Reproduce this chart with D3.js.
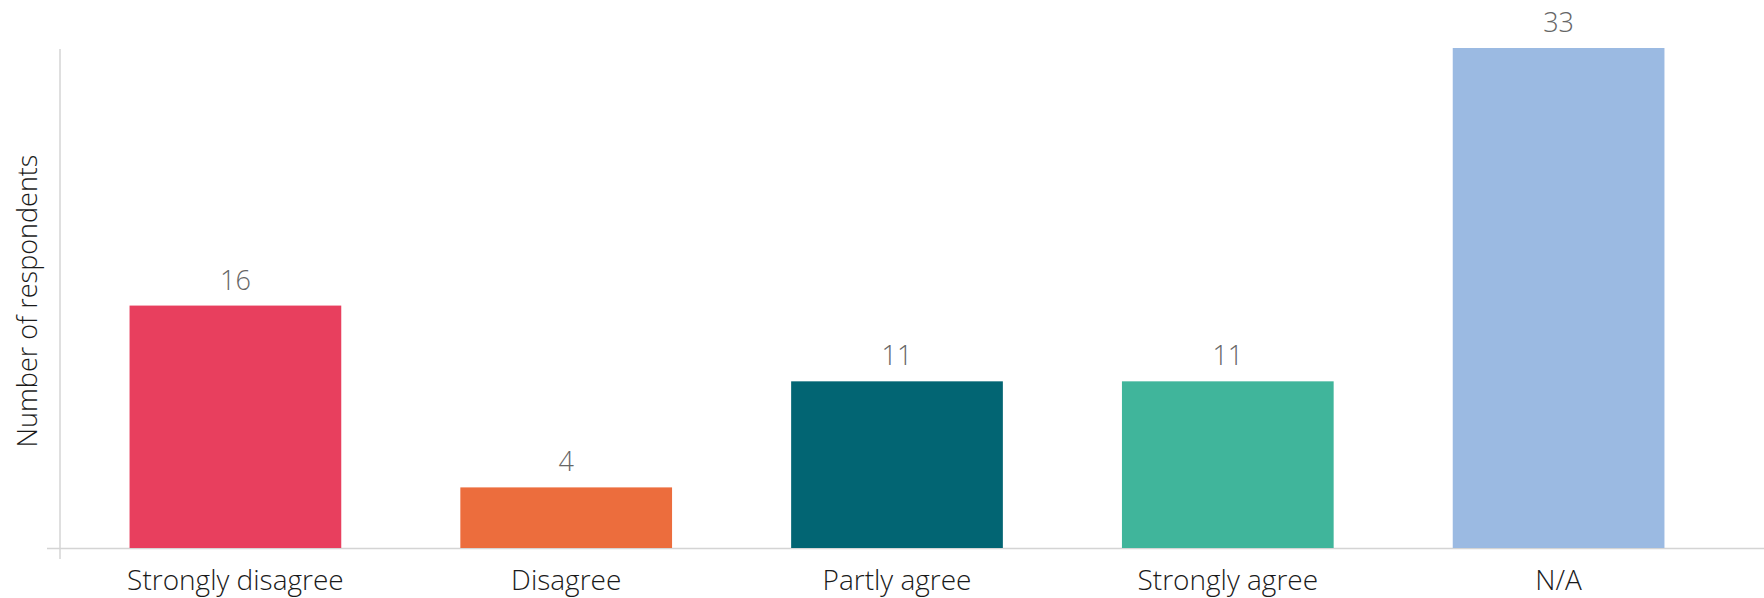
<!DOCTYPE html>
<html><head><meta charset="utf-8">
<script src="https://cdn.jsdelivr.net/npm/d3@7"></script>
<style>body{margin:0;background:#fff}svg{display:block}</style>
</head><body>
<svg id="chart" width="1764" height="598"></svg>
<script>
const categories = ["Strongly disagree","Disagree","Partly agree","Strongly agree","N/A"];
const values = [16,4,11,11,33];
const colors = ["#E83F5E","#EC6D3D","#026573","#40B59B","#9BBAE2"];
const yTitle = "Number of respondents";

const svg = d3.select("#chart");
const x = d3.scaleBand().domain(categories).range([70,1724]).paddingInner(0.36).paddingOuter(0.18);
const y = d3.scaleLinear().domain([0,33]).range([548,48]);
const font = "'Open Sans', 'Noto Sans', sans-serif";

svg.append("line").attr("x1",60).attr("x2",60).attr("y1",49).attr("y2",559)
  .attr("stroke","#d4d4d4").attr("stroke-width",1.5);
svg.append("line").attr("x1",47).attr("x2",1764).attr("y1",y(0)+0.5).attr("y2",y(0)+0.5)
  .attr("stroke","#d4d4d4").attr("stroke-width",1.5);

svg.selectAll("rect.bar").data(categories).join("rect").attr("class","bar")
  .attr("x",d=>x(d)).attr("width",x.bandwidth())
  .attr("y",(d,i)=>y(values[i])).attr("height",(d,i)=>y(0)-y(values[i]))
  .attr("fill",(d,i)=>colors[i]);

svg.selectAll("text.val").data(categories).join("text").attr("class","val")
  .attr("x",d=>x(d)+x.bandwidth()/2).attr("y",(d,i)=>y(values[i])-16)
  .attr("text-anchor","middle").attr("font-family",font).attr("font-size",27)
  .attr("font-weight",300).attr("fill","#666").text((d,i)=>values[i]);

const xAxis = d3.axisBottom(x).tickSize(0).tickPadding(0);
const gx = svg.append("g").attr("transform","translate(0,"+y(0)+")").call(xAxis);
gx.select(".domain").remove();
gx.selectAll("text").attr("y",42).attr("dy",0).attr("font-family",font).attr("font-size",28)
  .attr("font-weight",300).attr("fill","#1a1a1a");

svg.append("text").attr("transform","translate(37,301) rotate(-90)")
  .attr("text-anchor","middle").attr("font-family",font).attr("font-size",27)
  .attr("font-weight",300).attr("fill","#1a1a1a").text(yTitle);
</script>
</body></html>
